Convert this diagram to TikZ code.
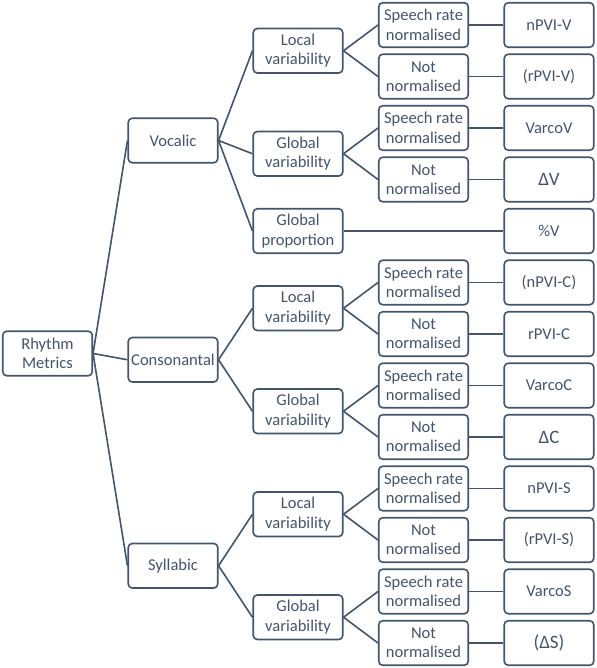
\documentclass[tikz,border=0pt]{standalone}
\usepackage{fontspec}
\setmainfont{Carlito}
\definecolor{ink}{HTML}{44546A}
\begin{document}
\begin{tikzpicture}[x=1bp,y=-1bp,
  box/.style={draw=ink, line width=1.6bp, rounded corners=4bp, minimum width=89.5bp, minimum height=44.5bp, inner sep=0pt, align=center, text=ink, font=\fontsize{16.6}{19.5}\selectfont},
  bigsym/.style={font=\fontsize{19}{22}\selectfont},
  link/.style={draw=ink, line width=1.6bp}]
\useasboundingbox (0,0) rectangle (597,668);
% column x centres
\def\cA{47.5}\def\cB{173}\def\cC{298}\def\cD{423.5}\def\cE{549}
% level 0
\node[box] (rm) at (\cA,353.5) {Rhythm\\Metrics};
% level 1
\node[box] (voc) at (\cB,140.5) {Vocalic};
\node[box] (con) at (\cB,359.75) {Consonantal};
\node[box] (syl) at (\cB,565.75) {Syllabic};
% level 2
\node[box] (vl) at (\cC,50.75) {Local\\variability};
\node[box] (vg) at (\cC,153.75) {Global\\variability};
\node[box] (vp) at (\cC,231) {Global\\proportion};
\node[box] (cl) at (\cC,308.25) {Local\\variability};
\node[box] (cg) at (\cC,411.25) {Global\\variability};
\node[box] (sl) at (\cC,514.25) {Local\\variability};
\node[box] (sg) at (\cC,617.25) {Global\\variability};
% level 3
\node[box] (vln) at (\cD,25) {Speech rate\\normalised};
\node[box] (vlu) at (\cD,76.5) {Not\\normalised};
\node[box] (vgn) at (\cD,128) {Speech rate\\normalised};
\node[box] (vgu) at (\cD,179.5) {Not\\normalised};
\node[box] (cln) at (\cD,282.5) {Speech rate\\normalised};
\node[box] (clu) at (\cD,334) {Not\\normalised};
\node[box] (cgn) at (\cD,385.5) {Speech rate\\normalised};
\node[box] (cgu) at (\cD,437) {Not\\normalised};
\node[box] (sln) at (\cD,488.5) {Speech rate\\normalised};
\node[box] (slu) at (\cD,540) {Not\\normalised};
\node[box] (sgn) at (\cD,591.5) {Speech rate\\normalised};
\node[box] (sgu) at (\cD,643) {Not\\normalised};
% level 4
\node[box] (m1) at (\cE,25) {nPVI-V};
\node[box] (m2) at (\cE,76.5) {(rPVI-V)};
\node[box] (m3) at (\cE,128) {VarcoV};
\node[box, bigsym] (m4) at (\cE,179.5) {ΔV};
\node[box] (m5) at (\cE,231) {\%V};
\node[box] (m6) at (\cE,282.5) {(nPVI-C)};
\node[box] (m7) at (\cE,334) {rPVI-C};
\node[box] (m8) at (\cE,385.5) {VarcoC};
\node[box, bigsym] (m9) at (\cE,437) {ΔC};
\node[box] (m10) at (\cE,488.5) {nPVI-S};
\node[box] (m11) at (\cE,540) {(rPVI-S)};
\node[box] (m12) at (\cE,591.5) {VarcoS};
\node[box, bigsym] (m13) at (\cE,643) {(ΔS)};
% connectors
\foreach \p/\c in {rm/voc, rm/con, rm/syl,
  voc/vl, voc/vg, voc/vp, con/cl, con/cg, syl/sl, syl/sg,
  vl/vln, vl/vlu, vg/vgn, vg/vgu, cl/cln, cl/clu, cg/cgn, cg/cgu, sl/sln, sl/slu, sg/sgn, sg/sgu,
  vln/m1, vlu/m2, vgn/m3, vgu/m4, vp/m5, cln/m6, clu/m7, cgn/m8, cgu/m9, sln/m10, slu/m11, sgn/m12, sgu/m13}
  \draw[link] (\p.east) -- (\c.west);
\end{tikzpicture}
\end{document}
